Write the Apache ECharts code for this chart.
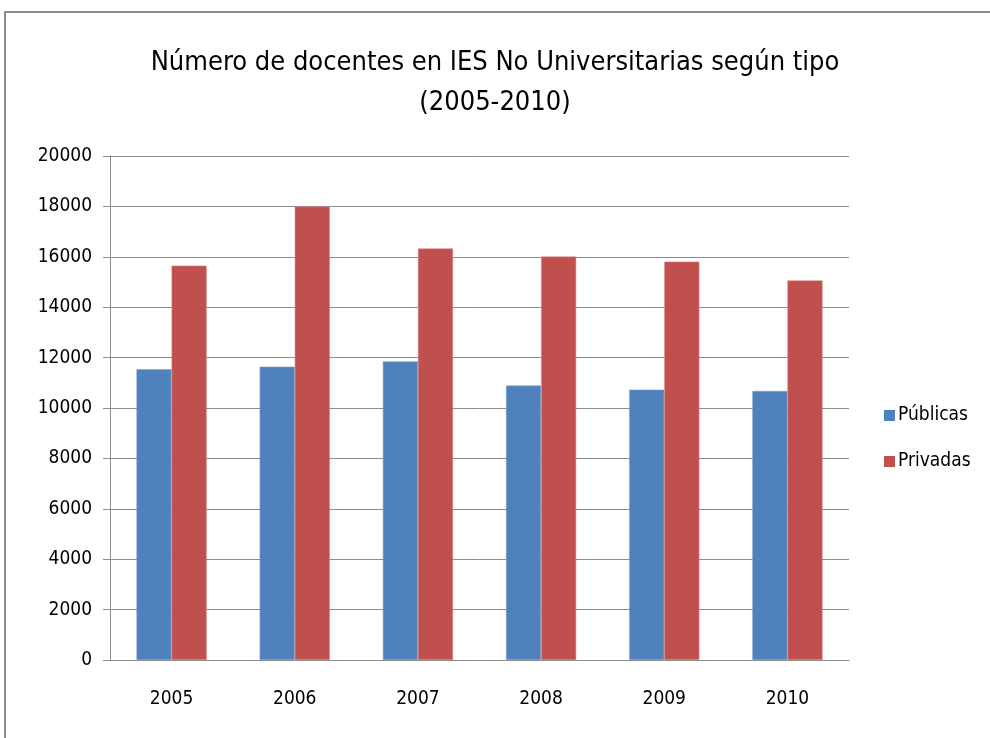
<!DOCTYPE html>
<html><head><meta charset="utf-8">
<script src="https://cdn.jsdelivr.net/npm/echarts@6/dist/echarts.min.js"></script>
<style>
html,body{margin:0;padding:0;background:#fff;overflow:hidden}
#frame{position:absolute;left:4px;top:11px;width:1000px;height:800px;border:2px solid #8c8c8c}
#chart{position:absolute;left:0;top:0;width:990px;height:738px}
</style></head>
<body>
<div id="frame"></div>
<div id="chart"></div>
<script>
// años y número de docentes por tipo de IES
const years=['2005','2006','2007','2008','2009','2010'];
const publicas=[11540,11640,11850,10890,10730,10680];
const privadas=[15650,18000,16330,16010,15810,15060];

const FONT="'Liberation Sans Narrow','DejaVu Sans Condensed','Open Sans',sans-serif";
const chart=echarts.init(document.getElementById('chart'));
chart.setOption({
  animation:false,
  title:{text:'Número de docentes en IES No Universitarias según tipo\n(2005-2010)',
    left:490,top:38,textAlign:'center',
    textStyle:{fontFamily:FONT,fontSize:27,fontWeight:500,color:'#000',lineHeight:40}},
  grid:{left:110,right:141,top:156,bottom:78},
  legend:{orient:'vertical',left:884,top:406,padding:0,itemWidth:11,itemHeight:11,itemGap:27,
    icon:'rect',itemStyle:{borderWidth:0},
    textStyle:{fontFamily:FONT,fontSize:19,color:'#000',padding:[0,0,0,-2]}},
  xAxis:{type:'category',data:years,
    axisLine:{lineStyle:{color:'#8c8c8c',width:1}},
    axisTick:{length:8,lineStyle:{color:'#8c8c8c'}},
    axisLabel:{fontFamily:FONT,fontSize:19,color:'#000',margin:30}},
  yAxis:{type:'value',min:0,max:20000,interval:2000,
    axisLine:{show:true,lineStyle:{color:'#8c8c8c',width:1}},
    axisTick:{show:true,length:7,lineStyle:{color:'#8c8c8c'}},
    axisLabel:{fontFamily:FONT,fontSize:19,color:'#000',margin:18,formatter:v=>String(v)},
    splitLine:{lineStyle:{color:'#8c8c8c',width:1}}},
  series:[
    {name:'Públicas',type:'bar',data:publicas,barGap:'0%',barCategoryGap:'43%',
     itemStyle:{color:'#4F81BD',borderColor:'#7fa3d0',borderWidth:0.6}},
    {name:'Privadas',type:'bar',data:privadas,barGap:'0%',barCategoryGap:'43%',
     itemStyle:{color:'#C0504D',borderColor:'#d98583',borderWidth:0.6}}
  ]
});
</script>
</body></html>
